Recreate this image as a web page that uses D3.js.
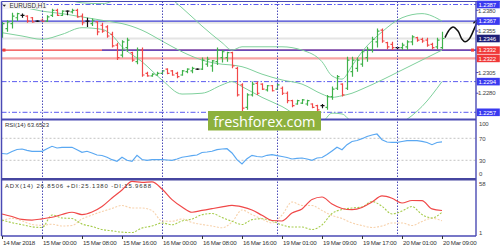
<!DOCTYPE html>
<html>
<head>
<meta charset="utf-8">
<script src="https://cdn.jsdelivr.net/npm/d3@7"></script>
<style>
	body { margin: 0; background: #fff; }
	svg { display: block; font-family: "Liberation Sans", Arial, sans-serif; }
</style>
</head>
<body>
<div id="chart"></div>
<script>
/////////////////////////////////////////////////////////
///////////////////// The data //////////////////////////
/////////////////////////////////////////////////////////

const symbolTitle = "EURUSD,H1";
const rsiLabel = "RSI(14) 63.6523";
const adxLabel = "ADX(14) 26.8506 +DI:25.1380 -DI:15.9688";

// H1 bars, 14 Mar 16:00 .. 20 Mar 09:00
const barOpen  = [1.2351,1.2358,1.2364,1.2371,1.2374,1.2373,1.2371,1.2367,1.2368,1.2367,1.2374,1.2380,1.2374,1.2379,1.2378,1.2380,1.2373,1.2367,1.2364,1.2366,
	1.2362,1.2360,1.2351,1.2338,1.2326,1.2335,1.2329,1.2318,1.2332,1.2304,1.2301,1.2302,1.2304,1.2309,1.2307,1.2304,1.2302,1.2306,1.2307,1.2309,
	1.2309,1.2315,1.2313,1.2318,1.2323,1.2323,1.2329,1.2310,1.2290,1.2263,1.2278,1.2292,1.2291,1.2284,1.2289,1.2285,1.2286,1.2280,1.2271,1.2267,
	1.2268,1.2267,1.2267,1.2265,1.2265,1.2263,1.2276,1.2286,1.2291,1.2286,1.2306,1.2310,1.2315,1.2323,1.2332,1.2342,1.2356,1.2341,1.2339,1.2335,
	1.2335,1.2336,1.2342,1.2347,1.2345,1.2344,1.2339,1.2336,1.2335];
const barHigh  = [1.2366,1.2368,1.2377,1.2377,1.2376,1.2374,1.2372,1.2368,1.2370,1.2374,1.2382,1.2382,1.2380,1.2380,1.2382,1.2382,1.2376,1.2371,1.2370,1.2367,
	1.2365,1.2362,1.2354,1.2341,1.2344,1.2347,1.2330,1.2335,1.2335,1.2306,1.2304,1.2306,1.2308,1.2310,1.2308,1.2306,1.2308,1.2310,1.2312,1.2310,
	1.2323,1.2324,1.2320,1.2335,1.2332,1.2330,1.2330,1.2312,1.2292,1.2280,1.2294,1.2294,1.2292,1.2290,1.2290,1.2292,1.2288,1.2282,1.2272,1.2272,
	1.2273,1.2272,1.2268,1.2266,1.2267,1.2278,1.2288,1.2302,1.2292,1.2324,1.2324,1.2323,1.2332,1.2336,1.2348,1.2358,1.2358,1.2342,1.2342,1.2336,
	1.2341,1.2344,1.2350,1.2348,1.2347,1.2347,1.2341,1.2347,1.2354];
const barLow   = [1.2347,1.2354,1.2358,1.2367,1.2371,1.2365,1.2365,1.2366,1.2366,1.2366,1.2372,1.2373,1.2373,1.2374,1.2376,1.2371,1.2362,1.2360,1.2361,1.2350,
	1.2353,1.2347,1.2335,1.2320,1.2323,1.2330,1.2318,1.2315,1.2300,1.2300,1.2300,1.2301,1.2303,1.2303,1.2301,1.2298,1.2301,1.2304,1.2304,1.2308,
	1.2308,1.2312,1.2306,1.2314,1.2317,1.2318,1.2310,1.2276,1.2257,1.2260,1.2276,1.2278,1.2284,1.2282,1.2282,1.2284,1.2278,1.2268,1.2263,1.2266,
	1.2267,1.2265,1.2262,1.2257,1.2262,1.2260,1.2272,1.2284,1.2276,1.2284,1.2300,1.2306,1.2312,1.2318,1.2329,1.2335,1.2341,1.2333,1.2332,1.2333,
	1.2332,1.2332,1.2338,1.2342,1.2341,1.2336,1.2333,1.2333,1.2333];
const barClose = [1.2364,1.2366,1.2373,1.2376,1.2374,1.2367,1.2366,1.2367,1.2367,1.2372,1.2380,1.2374,1.2379,1.2379,1.2380,1.2372,1.2365,1.2367,1.2368,1.2354,
	1.2355,1.2349,1.2337,1.2323,1.2342,1.2344,1.2320,1.2332,1.2302,1.2301,1.2303,1.2304,1.2307,1.2304,1.2302,1.2300,1.2307,1.2309,1.2310,1.2309,
	1.2320,1.2321,1.2319,1.2332,1.2330,1.2329,1.2313,1.2278,1.2262,1.2278,1.2291,1.2280,1.2285,1.2289,1.2283,1.2290,1.2280,1.2271,1.2265,1.2271,
	1.2272,1.2271,1.2263,1.2260,1.2265,1.2276,1.2285,1.2300,1.2278,1.2320,1.2320,1.2320,1.2330,1.2333,1.2345,1.2355,1.2343,1.2336,1.2335,1.2335,
	1.2338,1.2342,1.2348,1.2344,1.2343,1.2338,1.2335,1.2344,1.2346];

// Bollinger bands, read at these bar indices
const bandIdx    = [0,4,8,12,16,20,22,24,28,32,36,40,44,46,48,52,56,60,64,66,68,70,72,76,80,84,88];
const bandUpper  = [1.2423,1.2417,1.2410,1.2396,1.2389,1.2388,1.2391,1.2400,1.2410,1.2402,1.2383,1.2361,1.2341,1.2332,1.2336,1.2336,1.2336,1.2332,1.2318,1.2301,1.2297,1.2313,1.2330,1.2354,1.2371,1.2376,1.2367];
const bandMiddle = [1.2388,1.2384,1.2379,1.2376,1.2372,1.2368,1.2366,1.2364,1.2356,1.2343,1.2330,1.2320,1.2315,1.2314,1.2312,1.2303,1.2296,1.2291,1.2279,1.2275,1.2277,1.2280,1.2285,1.2296,1.2308,1.2320,1.2332];
const bandLower  = [1.2353,1.2349,1.2345,1.2351,1.2359,1.2357,1.2350,1.2336,1.2318,1.2296,1.2279,1.2280,1.2290,1.2294,1.2288,1.2275,1.2264,1.2250,1.2246,1.2256,1.2255,1.2245,1.2240,1.2238,1.2245,1.2264,1.2294];

// horizontal levels
const dashLevels  = [1.2387, 1.2294, 1.2257];
const solidLevels = [1.2367];
const supportLevel = 1.2332;     // red to the left, blue trend line from bar 20
const supportStartIdx = 20;
const pinkLevel = 1.2322;
const shadeLevels = [1.2365];
const priceTicks = [1.2380, 1.2355, 1.2305, 1.2280];

// hand drawn forecast wave
const forecastIdx   = [88.6, 89.4, 90.2, 91.2, 92.0, 92.6, 93.4, 94.4, 95.2];
const forecastPrice = [1.2347, 1.2356, 1.2360, 1.2355, 1.2345, 1.2342, 1.2345, 1.2357, 1.2369];

// RSI(14), one value per bar
const rsiValues = [42.4,41.5,46.0,49.6,50.5,48.2,46.4,46.4,46.4,51.1,55.5,52.4,53.6,53.6,53.6,49.3,44.5,46.4,43.3,39.6,
	38.7,35.5,31.1,28.2,35.5,30.0,28.2,39.1,31.5,30.0,31.1,31.1,31.1,30.5,30.0,32.4,35.5,36.9,38.4,39.6,
	44.2,45.1,46.4,49.3,50.5,51.1,43.3,31.1,23.3,32.9,39.1,36.9,36.0,39.1,40.2,38.4,36.9,35.1,32.4,33.6,
	34.2,32.4,30.0,34.2,35.1,40.5,46.9,53.6,49.3,58.4,64.2,66.0,69.3,73.3,76.0,77.8,67.5,63.3,62.7,62.7,
	64.2,65.6,65.6,65.6,64.5,62.4,58.4,62.4,63.65];
const rsiLevels = [70, 30];
const rsiTicks = [100, 70, 30, 0];

// ADX(14), read every second bar
const adxValues   = [23.2,20.5,17.4,16.8,18.1,19.7,22.6,25.0,22.6,25.3,31.1,40.1,48.5,57.5,56.6,57.0,49.6,38.3,30.6,25.0,
	26.9,28.8,30.6,32.2,30.6,27.4,21.8,16.3,15.8,24.2,28.5,38.5,41.1,33.7,29.0,27.7,30.0,35.8,42.2,39.8,34.8,37.4,37.2,28.5,26.85];
const plusDiValues  = [16.8,14.0,11.9,9.7,8.9,22.1,19.0,18.4,12.6,10.0,6.8,5.4,4.0,3.6,8.4,10.5,13.7,11.8,15.8,17.9,
	22.4,23.7,19.5,15.5,12.1,17.2,18.2,16.0,11.6,9.4,9.4,6.8,11.6,23.7,27.9,29.5,30.6,36.4,31.3,23.2,26.3,31.1,22.6,19.0,25.14];
const minusDiValues = [15.8,18.6,15.8,12.1,11.2,12.4,10.5,11.0,17.9,22.1,25.8,29.0,32.2,29.5,29.5,26.9,15.8,15.5,17.9,14.2,
	12.1,10.5,8.6,14.7,27.4,22.6,17.9,13.7,22.1,35.8,32.2,32.2,26.9,21.6,18.4,13.7,11.0,8.9,10.5,13.7,13.7,11.0,15.3,18.6,15.97];
const adxTicks = [58, 1];

// time axis
const timeLabels = ["14 Mar 2018","15 Mar 00:00","15 Mar 08:00","15 Mar 16:00","16 Mar 00:00","16 Mar 08:00",
	"16 Mar 16:00","19 Mar 01:00","19 Mar 09:00","19 Mar 17:00","20 Mar 01:00","20 Mar 09:00"];
const dayStartIdx = [8, 32, 55, 79];

/////////////////////////////////////////////////////////
//////////////////// Layout & scales ////////////////////
/////////////////////////////////////////////////////////

const W = 500, H = 250;
const plotL = 1.5, plotR = 476;
const mainTop = 1.5, mainBot = 119.5;
const rsiTop = 120.5, rsiBot = 178.5;
const adxTop = 180, adxBot = 236;

const frameColor = "#4a4ab4";
const upColor = "#3fb24a", downColor = "#f24848", dojiColor = "#111";

var x = d3.scaleLinear().domain([0, 88]).range([2, 442]);
var y = d3.scaleLinear().domain([1.2257, 1.2387]).range([112.3, 4.5]);
var yRsi = d3.scaleLinear().domain([30, 70]).range([160.3, 138.3]);
var yAdx = d3.scaleLinear().domain([1, 58]).range([235, 181]);

var svg = d3.select("#chart").append("svg")
	.attr("width", W)
	.attr("height", H);

svg.append("rect").attr("width", W).attr("height", H).attr("fill", "#fff");

var defs = svg.append("defs");
[["clipMain", mainTop, mainBot], ["clipRsi", rsiTop, rsiBot], ["clipAdx", adxTop, adxBot]].forEach(function(c) {
	defs.append("clipPath").attr("id", c[0])
		.append("rect").attr("x", plotL).attr("y", c[1]).attr("width", plotR - plotL).attr("height", c[2] - c[1]);
});
defs.append("marker")
	.attr("id", "arrowHead")
	.attr("viewBox", "0 0 10 10")
	.attr("refX", 8).attr("refY", 5)
	.attr("markerWidth", 5).attr("markerHeight", 5)
	.attr("orient", "auto")
	.append("path")
	.attr("d", "M1,1L8,5L1,9")
	.attr("fill", "none")
	.attr("stroke", "#111")
	.attr("stroke-width", 1.6);

/////////////////////////////////////////////////////////
//////////////////// Main price panel ///////////////////
/////////////////////////////////////////////////////////

var main = svg.append("g").attr("clip-path", "url(#clipMain)");

//Day separators across all panels
svg.append("g").selectAll("line")
	.data(dayStartIdx)
	.enter().append("line")
	.attr("x1", d => Math.round(x(d)) + 0.5).attr("x2", d => Math.round(x(d)) + 0.5)
	.attr("y1", mainTop).attr("y2", adxBot)
	.attr("stroke", "#4c4cb8")
	.attr("stroke-width", 1)
	.attr("stroke-dasharray", "1.5,1.5");

//Light shading lines
main.selectAll(".shade")
	.data(shadeLevels.concat([barClose[barClose.length - 1]]))
	.enter().append("line")
	.attr("x1", plotL).attr("x2", plotR)
	.attr("y1", d => y(d)).attr("y2", d => y(d))
	.attr("stroke", "#e4e4e4")
	.attr("stroke-width", 2);

//Pink level
main.append("line")
	.attr("x1", plotL).attr("x2", plotR)
	.attr("y1", y(pinkLevel)).attr("y2", y(pinkLevel))
	.attr("stroke", "#f6a4a4")
	.attr("stroke-width", 2.2);

//Support: red, then blue from a bar onward
main.append("line")
	.attr("x1", plotL).attr("x2", plotR)
	.attr("y1", y(supportLevel)).attr("y2", y(supportLevel))
	.attr("stroke", "#f03c3c")
	.attr("stroke-width", 1.4);
main.append("line")
	.attr("x1", x(supportStartIdx)).attr("x2", plotR)
	.attr("y1", y(supportLevel)).attr("y2", y(supportLevel))
	.attr("stroke", "#3c3cd2")
	.attr("stroke-width", 1.4);
[plotL + 2.5, plotR - 3.5].forEach(function(px) {
	main.append("rect")
		.attr("x", px - 1.5).attr("y", y(supportLevel) - 1.5)
		.attr("width", 3).attr("height", 3)
		.attr("fill", "#f03c3c");
});

//Solid blue resistance
main.selectAll(".solid")
	.data(solidLevels)
	.enter().append("line")
	.attr("x1", plotL).attr("x2", plotR)
	.attr("y1", d => y(d)).attr("y2", d => y(d))
	.attr("stroke", "#3c3cd2")
	.attr("stroke-width", 1.4);

//Dash-dot levels
main.selectAll(".dashdot")
	.data(dashLevels)
	.enter().append("line")
	.attr("x1", plotL).attr("x2", plotR)
	.attr("y1", d => y(d)).attr("y2", d => y(d))
	.attr("stroke", "#5b5bf0")
	.attr("stroke-width", 1)
	.attr("stroke-dasharray", "5,2,1.5,2");

//Bollinger bands
var bandLine = d3.line()
	.x(d => x(d[0]))
	.y(d => y(d[1]))
	.curve(d3.curveMonotoneX);
[bandUpper, bandMiddle, bandLower].forEach(function(band) {
	main.append("path")
		.attr("d", bandLine(bandIdx.map((d, i) => [d, band[i]])))
		.attr("fill", "none")
		.attr("stroke", "#7fd09c")
		.attr("stroke-width", 1);
});

//OHLC bars
var bars = barOpen.map((o, i) => ({i: i, o: o, h: barHigh[i], l: barLow[i], c: barClose[i]}));
main.selectAll(".bar")
	.data(bars)
	.enter().append("path")
	.attr("class", "bar")
	.attr("d", function(d) {
		var cx = Math.round(x(d.i)) + 0.5;
		return "M" + cx + "," + y(d.h) + "V" + y(d.l) +
			"M" + (cx - 2) + "," + y(d.o) + "H" + cx +
			"M" + cx + "," + y(d.c) + "H" + (cx + 2);
	})
	.attr("fill", "none")
	.attr("stroke", d => d.c > d.o ? upColor : (d.c < d.o ? downColor : dojiColor))
	.attr("stroke-width", 1.2);

//Title box
svg.append("rect")
	.attr("x", 2.5).attr("y", 2.5).attr("width", 44).attr("height", 6.5)
	.attr("fill", "#f4f4f4");
svg.append("path")
	.attr("d", "M2.5,4.8H6L4.25,6.8Z")
	.attr("fill", "#222");
svg.append("text")
	.attr("x", 9.5).attr("y", 8.2)
	.style("font-size", "6.3px")
	.attr("fill", "#333")
	.text(symbolTitle);

//Forecast wave
svg.append("path")
	.attr("d", d3.line().x(d => x(d[0])).y(d => y(d[1])).curve(d3.curveCatmullRom)(forecastIdx.map((d, i) => [d, forecastPrice[i]])))
	.attr("fill", "none")
	.attr("stroke", "#111")
	.attr("stroke-width", 1.5)
	.attr("marker-end", "url(#arrowHead)");

/////////////////////////////////////////////////////////
////////////////////// RSI panel ////////////////////////
/////////////////////////////////////////////////////////

var rsi = svg.append("g").attr("clip-path", "url(#clipRsi)");
rsi.selectAll(".rsiLevel")
	.data(rsiLevels)
	.enter().append("line")
	.attr("x1", plotL).attr("x2", plotR)
	.attr("y1", d => yRsi(d)).attr("y2", d => yRsi(d))
	.attr("stroke", "#c4c4c4")
	.attr("stroke-width", 1)
	.attr("stroke-dasharray", "2,2");
rsi.append("path")
	.attr("d", d3.line().x((d, i) => x(i)).y(d => yRsi(d))(rsiValues))
	.attr("fill", "none")
	.attr("stroke", "#5aa8f2")
	.attr("stroke-width", 1.2);
svg.append("text")
	.attr("x", 5).attr("y", 127)
	.style("font-size", "6px")
	.attr("fill", "#333")
	.text(rsiLabel);

/////////////////////////////////////////////////////////
////////////////////// ADX panel ////////////////////////
/////////////////////////////////////////////////////////

var adx = svg.append("g").attr("clip-path", "url(#clipAdx)");
var adxLine = d3.line().x((d, i) => x(i * 2)).y(d => yAdx(d)).curve(d3.curveMonotoneX);
adx.append("path")
	.attr("d", adxLine(minusDiValues))
	.attr("fill", "none")
	.attr("stroke", "#f7d2ac")
	.attr("stroke-width", 1.1)
	.attr("stroke-dasharray", "2,1.5");
adx.append("path")
	.attr("d", adxLine(plusDiValues))
	.attr("fill", "none")
	.attr("stroke", "#a6cc4c")
	.attr("stroke-width", 1.1)
	.attr("stroke-dasharray", "2,1.5");
adx.append("path")
	.attr("d", adxLine(adxValues))
	.attr("fill", "none")
	.attr("stroke", "#f04848")
	.attr("stroke-width", 1.2);
svg.append("text")
	.attr("x", 5).attr("y", 188)
	.style("font-size", "6px")
	.attr("fill", "#333")
	.attr("textLength", 146)
	.text(adxLabel);

/////////////////////////////////////////////////////////
///////////////////// Frames & axes /////////////////////
/////////////////////////////////////////////////////////

var frame = svg.append("g").attr("fill", "none").attr("stroke", frameColor);
frame.append("line").attr("x1", plotL).attr("x2", W).attr("y1", mainTop).attr("y2", mainTop).attr("stroke-width", 1.2);
frame.append("line").attr("x1", plotL).attr("x2", plotL).attr("y1", mainTop).attr("y2", adxBot).attr("stroke-width", 1.5);
frame.append("line").attr("x1", plotL).attr("x2", plotR).attr("y1", mainBot).attr("y2", mainBot).attr("stroke-width", 2);
frame.append("line").attr("x1", plotL).attr("x2", plotR).attr("y1", 179.2).attr("y2", 179.2).attr("stroke-width", 2.6).attr("stroke", "#4646a0");
frame.append("line").attr("x1", plotL).attr("x2", plotR).attr("y1", adxBot).attr("y2", adxBot).attr("stroke-width", 1.4);
frame.append("line").attr("x1", plotR).attr("x2", plotR).attr("y1", mainTop).attr("y2", adxBot).attr("stroke-width", 1.4);

//Price axis: boxed labels and plain ticks
var axisG = svg.append("g").style("font-size", "6px").style("letter-spacing", "-0.15px");
var boxLabels = []
	.concat(dashLevels.map(p => ({p: p, fill: "#3a3af0"})))
	.concat(solidLevels.map(p => ({p: p, fill: "#3a3af0"})))
	.concat([{p: supportLevel, fill: "#f03838"}, {p: pinkLevel, fill: "#f03838"}])
	.concat([{p: barClose[barClose.length - 1], fill: "#1e1e78"}]);

priceTicks.forEach(function(p) {
	axisG.append("line").attr("x1", plotR).attr("x2", plotR + 2.5).attr("y1", y(p)).attr("y2", y(p)).attr("stroke", frameColor);
	axisG.append("text").attr("x", 478).attr("y", y(p) + 2.2).attr("fill", "#444").text(p.toFixed(4));
});
boxLabels.forEach(function(d) {
	axisG.append("rect")
		.attr("x", plotR + 0.8).attr("y", y(d.p) - 3.8)
		.attr("width", 23).attr("height", 7.6)
		.attr("fill", d.fill);
	axisG.append("text").attr("x", 478.5).attr("y", y(d.p) + 2.2).attr("fill", "#fff").text(d.p.toFixed(4));
});

//RSI & ADX scale labels
rsiTicks.forEach(function(v) {
	var ty = Math.max(rsiTop + 3.5, Math.min(rsiBot - 4.5, yRsi(v)));
	axisG.append("text").attr("x", 479).attr("y", ty + 2.2).attr("fill", "#444").text(v);
});
adxTicks.forEach(function(v) {
	var ty = Math.max(adxTop + 3.5, Math.min(adxBot - 3, yAdx(v)));
	axisG.append("text").attr("x", 479).attr("y", ty + 2.2).attr("fill", "#444").text(v);
});

//Time axis
var timeG = svg.append("g").style("font-size", "6.2px").style("letter-spacing", "-0.25px");
timeLabels.forEach(function(t, k) {
	var tx = Math.round(x(k * 8)) + 0.5;
	timeG.append("line").attr("x1", tx).attr("x2", tx).attr("y1", adxBot).attr("y2", adxBot + 3).attr("stroke", "#333");
	timeG.append("text").attr("x", tx + 0.5).attr("y", 244.5).attr("fill", "#333").text(t);
});

/////////////////////////////////////////////////////////
////////////////////// Watermark ////////////////////////
/////////////////////////////////////////////////////////

svg.append("rect")
	.attr("x", 208).attr("y", 111)
	.attr("width", 113).attr("height", 19.5)
	.attr("fill", "#8db13e");
svg.append("text")
	.attr("x", 264.5).attr("y", 127)
	.attr("text-anchor", "middle")
	.style("font-family", "'Open Sans', sans-serif")
	.style("font-size", "14.5px")
	.attr("textLength", 102)
	.attr("fill", "#fff")
	.text("freshforex.com");
</script>
</body>
</html>
